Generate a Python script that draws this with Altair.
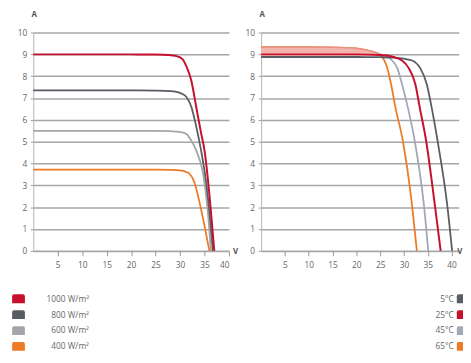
import altair as alt
import pandas as pd

FONT = "Open Sans"

# ---------- Left chart: irradiance ----------
irr_names = ["1000 W/m²", "800 W/m²", "600 W/m²", "400 W/m²"]
irr_colors = ["#c8102e", "#585c64", "#a3a5aa", "#ef7a26"]

v_1000 = [0, 5, 10, 15, 20, 25, 27.5, 29.3, 30.5, 31.3, 32.3, 33.3, 34.3, 35.0, 36.2, 37.0]
i_1000 = [9.0, 9.0, 9.0, 9.0, 9.0, 8.99, 8.97, 8.92, 8.78, 8.45, 7.8, 6.6, 5.4, 4.6, 2.1, 0.0]
v_800 = [0, 5, 10, 15, 20, 25, 28, 29.3, 30.5, 31.3, 32.3, 33.3, 34.3, 35.3, 36.0, 36.7]
i_800 = [7.35, 7.35, 7.35, 7.35, 7.35, 7.34, 7.32, 7.28, 7.18, 7.05, 6.6, 5.7, 4.6, 3.2, 1.8, 0.0]
v_600 = [0, 5, 10, 15, 20, 25, 28, 30, 31.3, 32.3, 33.3, 34.7, 35.6, 36.3]
i_600 = [5.5, 5.5, 5.5, 5.5, 5.5, 5.5, 5.48, 5.44, 5.35, 5.05, 4.6, 3.55, 2.0, 0.0]
v_400 = [0, 5, 10, 15, 20, 25, 28, 30.3, 31.2, 32.0, 33.0, 34.0, 35.0, 36.0]
i_400 = [3.72, 3.72, 3.72, 3.72, 3.72, 3.72, 3.71, 3.67, 3.62, 3.52, 3.1, 2.2, 1.15, 0.0]

# ---------- Right chart: temperature ----------
temp_names = ["5°C", "25°C", "45°C", "65°C"]
temp_colors = ["#585c64", "#c8102e", "#a3a8b6", "#ef7a26"]

v_5 = [0, 5, 10, 15, 20, 25, 28, 30, 31.7, 33.4, 34.8, 35.8, 37.0, 39.1, 40.1]
i_5 = [8.88, 8.88, 8.88, 8.88, 8.88, 8.87, 8.85, 8.8, 8.72, 8.37, 7.62, 6.57, 5.1, 2.06, 0.0]
v_25 = [0, 5, 10, 15, 20, 25, 27.5, 29.6, 31.0, 32.4, 33.3, 34.6, 36.5, 37.7]
i_25 = [9.0, 9.0, 9.0, 9.0, 9.0, 8.97, 8.9, 8.72, 8.37, 7.62, 6.57, 5.1, 2.06, 0.0]
v_45 = [0, 5, 10, 15, 20, 23, 25, 26.5, 27.5, 28.6, 29.6, 30.8, 32.2, 34.2, 35.1]
i_45 = [9.15, 9.15, 9.15, 9.15, 9.13, 9.08, 9.0, 8.9, 8.72, 8.37, 7.62, 6.57, 5.1, 2.06, 0.0]
v_65 = [0, 5, 10, 15, 18, 20, 22, 24, 25.1, 25.8, 26.5, 27.3, 28.2, 29.7, 31.7, 32.7]
i_65 = [9.33, 9.33, 9.33, 9.32, 9.3, 9.27, 9.2, 9.08, 8.97, 8.75, 8.37, 7.62, 6.57, 5.1, 2.06, 0.0]

band_v = [0, 5, 10, 15, 18, 20, 22, 24, 25.1]
band_top = [9.33, 9.33, 9.33, 9.32, 9.3, 9.27, 9.2, 9.08, 8.97]
band_bottom = [8.95, 8.95, 8.95, 8.95, 8.95, 8.95, 8.95, 8.95, 8.95]
band_fill = "#f4b6ac"
band_edge = "#e8918a"

x_ticks = [5, 10, 15, 20, 25, 30, 35, 40]
y_ticks = [0, 1, 2, 3, 4, 5, 6, 7, 8, 9, 10]

# legend swatch: tab with rounded top corners (13 x 9 px at size 169)
TAB = "M-1,0.69 L-1,-0.38 Q-1,-0.69 -0.7,-0.69 L0.7,-0.69 Q1,-0.69 1,-0.38 L1,0.69 Z"
TAB_CUT = "M-1,0.69 L-1,-0.38 Q-1,-0.69 -0.7,-0.69 L0.0,-0.69 L0.0,0.69 Z"

LABEL = dict(labelFontSize=8.5, labelColor="#666", labelFont=FONT,
             titleFontSize=8, titleFontWeight="bold", titleColor="#555", titleFont=FONT)


def x_enc(dmax, title_x, field="V"):
    return alt.X(f"{field}:Q",
                 scale=alt.Scale(domain=[0, dmax], nice=False, zero=True),
                 axis=alt.Axis(values=x_ticks, title="V", titleX=title_x, titleY=1,
                               titleAngle=0, titleAlign="left", titleBaseline="middle",
                               grid=False, domain=False, tickSize=5, tickColor="#9a9a9a",
                               labelPadding=5, **LABEL))


def y_enc(field="I"):
    return alt.Y(f"{field}:Q",
                 scale=alt.Scale(domain=[0, 10], nice=False),
                 axis=alt.Axis(values=y_ticks, title="A", titleX=0.5, titleY=-18,
                               titleAngle=0, titleAlign="center", titleBaseline="middle",
                               grid=True, gridColor="#a6a6a6", gridWidth=1.6,
                               domainColor="#b5b5b5", tickSize=3, tickColor="#9a9a9a",
                               labelPadding=3.6, **LABEL))


def line(v, i, color, dmax, tx, width=1.8):
    df = pd.DataFrame({"V": v, "I": i})
    return alt.Chart(df).mark_line(color=color, strokeWidth=width,
                                   interpolate="monotone").encode(
        x=x_enc(dmax, tx), y=y_enc(), order="V:Q")


def band(dmax, tx):
    df = pd.DataFrame({"V": band_v, "top": band_top, "bottom": band_bottom})
    return alt.Chart(df).mark_area(color=band_fill, opacity=1, interpolate="monotone",
                                   line={"color": band_edge, "strokeWidth": 1.4}).encode(
        x=x_enc(dmax, tx), y=y_enc("top"), y2="bottom:Q")


LX = 202.7  # left chart "V" position
RX = 199    # right chart "V" position

left = alt.layer(
    line(v_600, i_600, irr_colors[2], 40, LX),
    line(v_800, i_800, irr_colors[1], 40, LX),
    line(v_400, i_400, irr_colors[3], 40, LX),
    line(v_1000, i_1000, irr_colors[0], 40, LX, 2.0),
).properties(width=199, height=222)

right = alt.layer(
    line(v_65, i_65, temp_colors[3], 41.5, RX),
    line(v_45, i_45, temp_colors[2], 41.5, RX),
    band(41.5, RX),
    line(v_5, i_5, temp_colors[0], 41.5, RX),
    line(v_25, i_25, temp_colors[1], 41.5, RX, 2.0),
).properties(width=201, height=222)

LEG_H = 64.7


def legend(names, colors, shape, sq_x, txt_x, width):
    df = pd.DataFrame({"name": names, "color": colors, "k": list(range(len(names)))})
    y = alt.Y("k:O", axis=None, scale=alt.Scale(paddingInner=0, paddingOuter=0))
    sq = alt.Chart(df).mark_point(shape=shape, filled=True, size=169, opacity=1,
                                  strokeWidth=0).encode(
        x=alt.value(sq_x), y=y, color=alt.Color("color:N", scale=None))
    tx = alt.Chart(df).mark_text(align="right", baseline="middle", fontSize=8.5,
                                 color="#666", font=FONT).encode(
        x=alt.value(txt_x), y=y, text="name:N")
    return alt.layer(sq, tx).properties(width=width, height=LEG_H)


left_leg = legend(irr_names, irr_colors, TAB, -15, 56.7, 199)
right_leg = legend(temp_names, temp_colors, TAB_CUT, 205.5, 196, 201)

chart = alt.concat(left, right, left_leg, right_leg, columns=2,
                   spacing={"row": 40.6, "column": 32.7}, bounds="flush").properties(
    padding={"left": 3.7, "top": 0, "right": -1, "bottom": 0}
).configure_view(stroke=None)

chart.save("out.html", embed_options={"renderer": "svg", "actions": False})
